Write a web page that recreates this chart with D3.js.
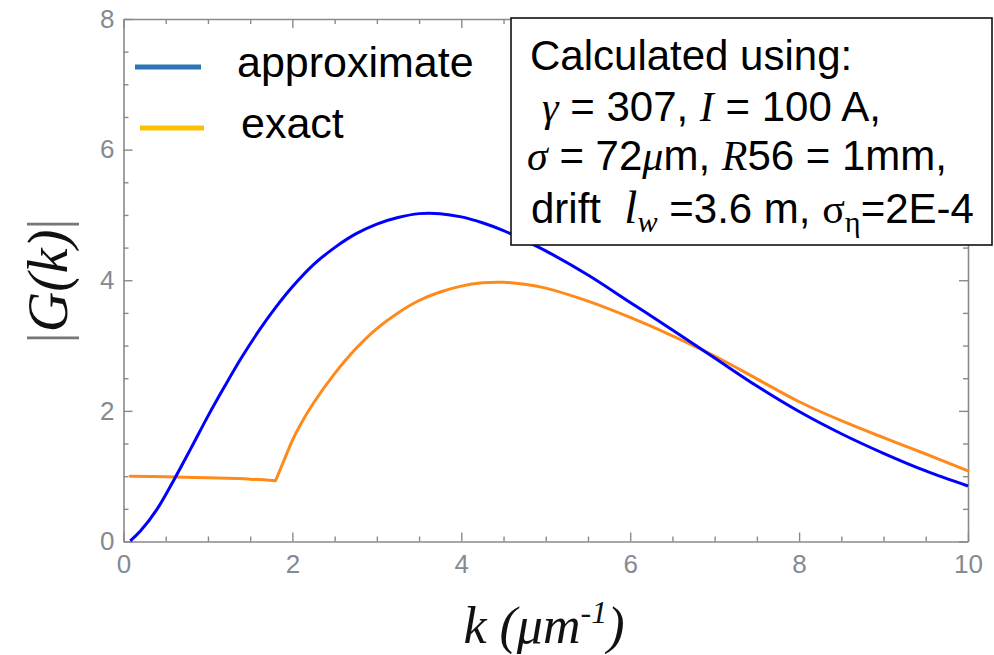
<!DOCTYPE html>
<html>
<head>
<meta charset="utf-8">
<script src="https://cdn.jsdelivr.net/npm/d3@7"></script>
<style>
  html, body { margin: 0; padding: 0; background: #fff; }
  svg { display: block; }
</style>
</head>
<body>
<svg id="chart" width="994" height="655"></svg>
<script>
// ---- data ----
const kApprox = [0.08, 0.2, 0.4, 0.6, 0.8, 1.0, 1.2, 1.4, 1.6, 1.8, 2.0, 2.25, 2.5, 2.75, 3.0, 3.25, 3.5, 3.75, 4.0, 4.25, 4.5, 4.75, 5.0, 5.5, 6.0, 6.5, 7.0, 7.5, 8.0, 8.5, 9.0, 9.5, 10];
const gApprox = [0.01, 0.16, 0.50, 0.95, 1.43, 1.92, 2.38, 2.82, 3.22, 3.58, 3.90, 4.24, 4.50, 4.71, 4.86, 4.96, 5.02, 5.02, 4.97, 4.88, 4.76, 4.61, 4.45, 4.08, 3.66, 3.24, 2.81, 2.38, 1.99, 1.65, 1.35, 1.08, 0.85];

// exact: flat branch up to the kink at k = 1.8, then the rising branch
const kExactLow = [0.08, 0.5, 1.0, 1.5, 1.8];
const gExactLow = [1.0, 0.99, 0.975, 0.955, 0.93];
const kExactHigh = [1.8, 1.9, 2.0, 2.1, 2.25, 2.5, 2.75, 3.0, 3.25, 3.5, 3.75, 4.0, 4.25, 4.5, 4.75, 5.0, 5.5, 6.0, 6.5, 7.0, 7.5, 8.0, 8.5, 9.0, 9.5, 10];
const gExactHigh = [0.93, 1.24, 1.55, 1.80, 2.12, 2.57, 2.95, 3.26, 3.50, 3.69, 3.82, 3.91, 3.96, 3.97, 3.94, 3.88, 3.68, 3.43, 3.15, 2.84, 2.49, 2.14, 1.85, 1.59, 1.34, 1.08];

const xTicks = [0, 2, 4, 6, 8, 10];
const yTicks = [0, 2, 4, 6, 8];
const xMinor = [0.5, 1, 1.5, 2.5, 3, 3.5, 4.5, 5, 5.5, 6.5, 7, 7.5, 8.5, 9, 9.5];
const yMinor = [0.5, 1, 1.5, 2.5, 3, 3.5, 4.5, 5, 5.5, 6.5, 7, 7.5];

const seriesNames = ["approximate", "exact"];
const legendColors = ["#2E75B6", "#FFC000"];
const curveColors = ["#0000FF", "#FF8A1C"];

// ---- setup ----
const svg = d3.select("#chart");
svg.append("rect").attr("width", 994).attr("height", 655).attr("fill", "#fff");

const x = d3.scaleLinear().domain([0, 10]).range([123.5, 968]);
const y = d3.scaleLinear().domain([0, 8]).range([541.5, 19]);

const axisColor = "#8a8a8a";
const labelColor = "#858a92";

function styleAxis(g, showDomain) {
  g.select(".domain").attr("stroke", axisColor).attr("stroke-width", 1.6)
    .style("display", showDomain ? null : "none");
  g.selectAll(".tick line").attr("stroke", axisColor).attr("stroke-width", 1.4);
  g.selectAll(".tick text").attr("fill", labelColor)
    .style("font-family", "'Liberation Sans', Arial, sans-serif").style("font-size", "26px");
}

// bottom
svg.append("g").attr("transform", `translate(0,${y(0)})`)
  .call(d3.axisBottom(x).tickValues(xTicks).tickSizeInner(-9).tickSizeOuter(0).tickPadding(13).tickFormat(d3.format("d")))
  .call(g => styleAxis(g, true));
svg.append("g").attr("transform", `translate(0,${y(0)})`)
  .call(d3.axisBottom(x).tickValues(xMinor).tickSizeInner(-5).tickSizeOuter(0).tickFormat(""))
  .call(g => styleAxis(g, false));
// top
svg.append("g").attr("transform", `translate(0,${y(8)})`)
  .call(d3.axisTop(x).tickValues(xTicks).tickSizeInner(-9).tickSizeOuter(0).tickFormat(""))
  .call(g => styleAxis(g, true));
svg.append("g").attr("transform", `translate(0,${y(8)})`)
  .call(d3.axisTop(x).tickValues(xMinor).tickSizeInner(-5).tickSizeOuter(0).tickFormat(""))
  .call(g => styleAxis(g, false));
// left
svg.append("g").attr("transform", `translate(${x(0)},0)`)
  .call(d3.axisLeft(y).tickValues(yTicks).tickSizeInner(-9).tickSizeOuter(0).tickPadding(9).tickFormat(d3.format("d")))
  .call(g => styleAxis(g, true));
svg.append("g").attr("transform", `translate(${x(0)},0)`)
  .call(d3.axisLeft(y).tickValues(yMinor).tickSizeInner(-5).tickSizeOuter(0).tickFormat(""))
  .call(g => styleAxis(g, false));
// right
svg.append("g").attr("transform", `translate(${x(10)},0)`)
  .call(d3.axisRight(y).tickValues(yTicks).tickSizeInner(-9).tickSizeOuter(0).tickFormat(""))
  .call(g => styleAxis(g, true));
svg.append("g").attr("transform", `translate(${x(10)},0)`)
  .call(d3.axisRight(y).tickValues(yMinor).tickSizeInner(-5).tickSizeOuter(0).tickFormat(""))
  .call(g => styleAxis(g, false));

// ---- curves ----
const line = d3.line().x(d => x(d[0])).y(d => y(d[1])).curve(d3.curveCatmullRom.alpha(0.5));
const approxData = kApprox.map((k, i) => [k, gApprox[i]]);
const exactLow = kExactLow.map((k, i) => [k, gExactLow[i]]);
const exactHigh = kExactHigh.map((k, i) => [k, gExactHigh[i]]);

svg.append("path").attr("d", line(exactLow) + line(exactHigh))
  .attr("fill", "none").attr("stroke", curveColors[1]).attr("stroke-width", 3)
  .attr("stroke-linejoin", "round").attr("stroke-linecap", "round");
svg.append("path").datum(approxData).attr("d", line)
  .attr("fill", "none").attr("stroke", curveColors[0]).attr("stroke-width", 3).attr("stroke-linejoin", "round");

// ---- axis titles ----
const serif = "'Liberation Serif', 'Times New Roman', serif";
const yTitle = svg.append("text")
  .attr("transform", "translate(67,281) rotate(-90)")
  .attr("text-anchor", "middle")
  .style("font-family", serif).style("font-size", "56px").attr("fill", "#111");
yTitle.append("tspan").attr("fill", "#777").text("|");
yTitle.append("tspan").style("font-style", "italic").text("G(k)");
yTitle.append("tspan").attr("fill", "#777").text("|");

const xTitle = svg.append("text")
  .attr("x", 544).attr("y", 643).attr("text-anchor", "middle")
  .style("font-family", serif).style("font-size", "52px").style("font-style", "italic").attr("fill", "#111");
xTitle.append("tspan").text("k (μm");
xTitle.append("tspan").attr("dy", -20).style("font-size", "32px").text("-1");
xTitle.append("tspan").attr("dy", 20).text(")");

// ---- legend ----
const sans = "'Liberation Sans', Arial, sans-serif";
const legendRows = [
  { x1: 135, x2: 201, ly: 67, tx: 237, ty: 77 },
  { x1: 140, x2: 204, ly: 128, tx: 241, ty: 138 }
];
seriesNames.forEach((name, i) => {
  const r = legendRows[i];
  svg.append("line").attr("x1", r.x1).attr("x2", r.x2).attr("y1", r.ly).attr("y2", r.ly)
    .attr("stroke", legendColors[i]).attr("stroke-width", 5);
  svg.append("text").attr("x", r.tx).attr("y", r.ty)
    .style("font-family", sans).style("font-size", "43px").attr("fill", "#000").text(name);
});

// ---- annotation box ----
svg.append("rect").attr("x", 511).attr("y", 18).attr("width", 481).attr("height", 227)
  .attr("fill", "#fff").attr("stroke", "#111").attr("stroke-width", 1.6);

function addLine(xp, yp, size, parts) {
  const t = svg.append("text").attr("x", xp).attr("y", yp)
    .attr("xml:space", "preserve").style("white-space", "pre")
    .style("font-family", sans).style("font-size", size + "px").attr("fill", "#000");
  parts.forEach(p => {
    const s = t.append("tspan").text(p.t);
    if (p.it) s.style("font-family", serif).style("font-style", "italic");
    if (p.serif) s.style("font-family", serif);
    if (p.big) s.style("font-size", (size * 1.12) + "px");
    if (p.sub) s.attr("dy", 9).style("font-size", (size * 0.72) + "px");
    if (p.back) s.attr("dy", -9);
  });
  return t;
}
addLine(530, 70, 42, [{ t: "Calculated using:" }]);
addLine(542, 121, 42, [
  { t: "γ", it: true }, { t: " = 307, " }, { t: "I", it: true }, { t: " = 100 A," }
]);
addLine(527, 170, 42, [
  { t: "σ", it: true }, { t: " = 72" }, { t: "μ", it: true }, { t: "m, " },
  { t: "R", it: true }, { t: "56 = 1mm," }
]);
addLine(531, 223, 42, [
  { t: "drift  " }, { t: "l", it: true, big: true }, { t: "w", it: true, sub: true },
  { t: " =3.6 m, ", back: true }, { t: "σ", serif: true }, { t: "η", serif: true, sub: true },
  { t: "=2E-4", back: true }
]);
</script>
</body>
</html>
